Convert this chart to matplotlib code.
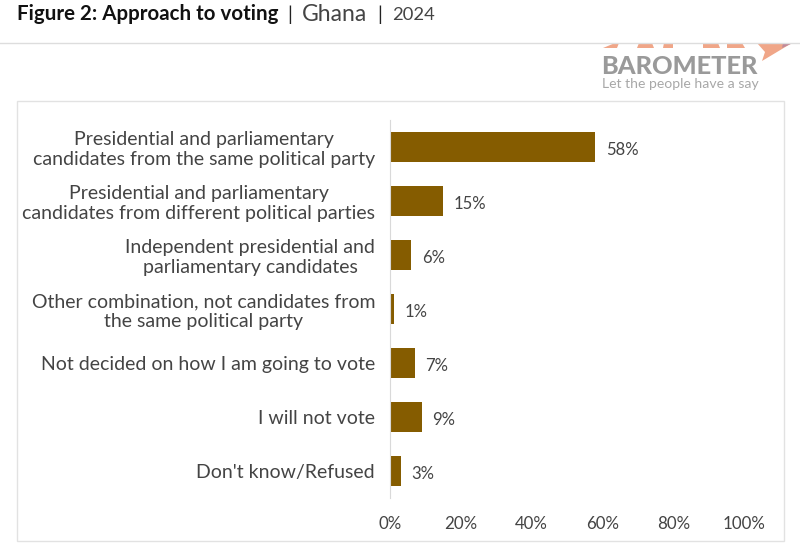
import matplotlib.pyplot as plt
from matplotlib.patches import Polygon, Rectangle

plt.rcParams['font.family'] = ['Lato', 'DejaVu Sans']

labels = [
    'Presidential and parliamentary\ncandidates from the same political party',
    'Presidential and parliamentary\ncandidates from different political parties',
    'Independent presidential and\nparliamentary candidates',
    'Other combination, not candidates from\nthe same political party',
    'Not decided on how I am going to vote',
    'I will not vote',
    "Don't know/Refused",
]
values = [58, 15, 6, 1, 7, 9, 3]
xticks = [0, 20, 40, 60, 80, 100]

W = 800
H = 548


def fx(x):
    return x / W


def fy(y):
    return 1 - y / H


def add_page(fig):
    """Header, chart frame and the logo, placed in reference pixels"""

    # header
    fig.text(fx(17), fy(14.5), 'Figure 2: Approach to voting', fontsize=14.75, fontweight='bold',
             color='#111111', va='center')
    fig.text(fx(287), fy(14.5), '|', fontsize=14, color='#222222', va='center')
    fig.text(fx(302), fy(14.5), 'Ghana', fontsize=16.5, color='#444444', va='center')
    fig.text(fx(377), fy(14.5), '|', fontsize=14, color='#222222', va='center')
    fig.text(fx(392), fy(14.5), '2024', fontsize=13.2, color='#444444', va='center')
    fig.add_artist(plt.Line2D([0, 1], [fy(42.5), fy(42.5)], color='#dddddd', lw=1))

    # chart frame
    fig.add_artist(Rectangle((fx(16.5), fy(541)), 767 / W, 440 / H, fill=False,
                             edgecolor='#e2e2e2', lw=1))

    # logo
    pieces = [
        [(603, 48), (615, 43), (619, 43), (617, 48)],
        [(639, 43), (652, 43), (654, 48), (637, 48)],
        [(664, 43), (673, 43), (673, 48), (663, 48)],
        [(703, 43), (718, 43), (720, 48), (703, 48)],
        [(727, 43), (742, 43), (745, 48), (727, 48)],
        [(757, 43), (792, 43), (762, 61), (765, 52)],
    ]
    for piece in pieces:
        fig.add_artist(Polygon([(fx(x), fy(y)) for x, y in piece], closed=True,
                               facecolor='#f0a688', edgecolor='none'))
    fig.add_artist(Polygon([(fx(x), fy(y)) for x, y in [(783, 43), (793, 43), (782, 48)]], closed=True,
                           facecolor='#c08a9a', edgecolor='none'))
    fig.text(fx(601), fy(66.5), 'BAROMETER', fontsize=18.3, fontweight='black', color='#9a9a9a', va='center')
    fig.text(fx(602), fy(84), 'Let the people have a say', fontsize=10.1, color='#a8a8a8', va='center')


def plot():
    """Plots the horizontal bars on an axes set to the reference position"""

    fig = plt.figure(figsize=(W / 100, H / 100), dpi=100, facecolor='white')
    ax = fig.add_axes([fx(390), fy(498), 354 / W, 378 / H])

    ypos = list(range(len(values)))
    ax.barh(ypos, values, height=0.56, color='#855c00')
    for y, value in zip(ypos, values):
        ax.text(value + 3, y + 0.03, f'{value}%', va='center_baseline', ha='left', fontsize=12, color='#444444')

    ax.set_xlim(0, 100)
    ax.set_ylim(6.5, -0.5)
    ax.set_xticks(xticks)
    ax.set_xticklabels([f'{x}%' for x in xticks], fontsize=12.2, color='#444444')
    ax.set_yticks(ypos)
    ax.set_yticklabels(labels, fontsize=14, color='#444444', multialignment='center', linespacing=1.2)
    ax.tick_params(axis='x', length=0, pad=13)
    ax.tick_params(axis='y', length=0, pad=10.8)

    for side in ['top', 'right', 'bottom']:
        ax.spines[side].set_visible(False)
    ax.spines['left'].set_color('#d9d9d9')

    add_page(fig)
    fig.savefig('out.png', dpi=100)


if __name__ == '__main__':
    plot()
